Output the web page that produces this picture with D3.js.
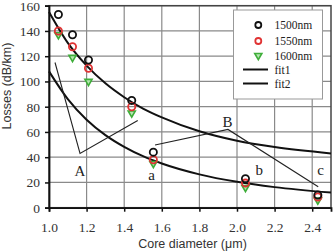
<!DOCTYPE html>
<html>
<head>
<meta charset="utf-8">
<script src="https://cdn.jsdelivr.net/npm/d3@7"></script>
<style>
  body { margin: 0; background: #fff; }
  svg text { fill: #222; }
  .tick-lab { font-family: "Liberation Serif", "DejaVu Serif", serif; font-size: 13.5px; fill: #333; }
  .ttl { font-family: "Liberation Sans", Arial, sans-serif; font-size: 12.5px; fill: #333; }
  .ann { font-family: "Liberation Serif", serif; font-size: 15px; }
  .leg { font-family: "Liberation Serif", serif; font-size: 11.5px; }
</style>
</head>
<body>
<svg id="chart" width="333" height="251"></svg>
<script>
// measured core diameters and losses
var diameters = [1.05, 1.125, 1.21, 1.44, 1.555, 2.045, 2.43];
var loss1500 = [153, 137, 117, 85, 44, 23, 10];
var loss1550 = [140, 127.5, 110.5, 80, 38, 19.5, 8.5];
var loss1600 = [137, 119, 100, 75, 35, 16, 6];

// fit curves
var fitX = [1.0, 1.1, 1.2, 1.3, 1.4, 1.5, 1.6, 1.8, 2.0, 2.2, 2.5];
var fit1 = [155, 130.5, 112.5, 98.5, 87.5, 78.5, 71.5, 60.5, 53, 48, 43];
var fit2 = [108, 86, 69.7, 57.5, 48.2, 40.8, 35, 26.4, 20.5, 16.3, 12];

var xTicks = [1.0, 1.2, 1.4, 1.6, 1.8, 2.0, 2.2, 2.4];
var yTicks = [0, 20, 40, 60, 80, 100, 120, 140, 160];

// annotation pointers (data coords)
var lineA = [[1.032, 115], [1.165, 43], [1.472, 69]];
var lineB = [[1.564, 49.7], [1.952, 62], [2.432, 16.6]];
var labels = [
  {t: "A", x: 1.165, y: 25},
  {t: "B", x: 1.95, y: 64},
  {t: "a", x: 1.546, y: 22},
  {t: "b", x: 2.118, y: 26},
  {t: "c", x: 2.445, y: 26}
];

var svg = d3.select("#chart");
var x = d3.scaleLinear().domain([1.0, 2.5]).range([49, 331]);
var y = d3.scaleLinear().domain([0, 160]).range([207.7, 5.7]);

// grid
svg.append("g").selectAll("line").data(xTicks.slice(1)).enter().append("line")
    .attr("x1", d => x(d)).attr("x2", d => x(d))
    .attr("y1", y(0)).attr("y2", y(160))
    .attr("stroke", "#8a8a8a").attr("stroke-width", 1.2);
svg.append("g").selectAll("line").data(yTicks.slice(1)).enter().append("line")
    .attr("x1", x(1.0)).attr("x2", x(2.5))
    .attr("y1", d => y(d)).attr("y2", d => y(d))
    .attr("stroke", "#8a8a8a").attr("stroke-width", 1.2);

// frame
svg.append("rect")
    .attr("x", x(1.0)).attr("y", y(160))
    .attr("width", x(2.5) - x(1.0)).attr("height", y(0) - y(160))
    .attr("fill", "none").attr("stroke", "#444").attr("stroke-width", 1.5);

// axes
var xAxis = svg.append("g")
    .attr("transform", "translate(0," + y(0) + ")")
    .call(d3.axisBottom(x).tickValues(xTicks).tickSize(4).tickPadding(11).tickFormat(d3.format(".1f")));
var yAxis = svg.append("g")
    .attr("transform", "translate(" + x(1.0) + ",0)")
    .call(d3.axisLeft(y).tickValues(yTicks).tickSize(4).tickPadding(5));
[xAxis, yAxis].forEach(function(g) {
  g.select(".domain").attr("stroke", "#111").attr("stroke-width", 1.8);
  g.selectAll(".tick line").attr("stroke", "#111").attr("stroke-width", 1.5);
  g.selectAll(".tick text").attr("class", "tick-lab");
});

// fit lines
var fitLine = d3.line().x(d => x(d[0])).y(d => y(d[1])).curve(d3.curveMonotoneX);
[fit1, fit2].forEach(function(f) {
  svg.append("path")
      .datum(fitX.map((v, i) => [v, f[i]]))
      .attr("d", fitLine)
      .attr("fill", "none").attr("stroke", "#111").attr("stroke-width", 2);
});

// annotation lines
var pl = d3.line().x(d => x(d[0])).y(d => y(d[1]));
[lineA, lineB].forEach(function(p) {
  svg.append("path").attr("d", pl(p))
      .attr("fill", "none").attr("stroke", "#222").attr("stroke-width", 1.1);
});
svg.append("g").selectAll("text").data(labels).enter().append("text")
    .attr("class", "ann")
    .attr("x", d => x(d.x)).attr("y", d => y(d.y))
    .attr("text-anchor", "middle")
    .text(d => d.t);

// markers
var tri = d3.symbol().type(d3.symbolTriangle).size(22);
function drawTri(g, px, py) {
  g.append("path").attr("d", tri())
      .attr("transform", "translate(" + px + "," + py + ") rotate(180)")
      .attr("fill", "#b5e6b0").attr("stroke", "#3fae3a").attr("stroke-width", 1.6);
}
var mk = svg.append("g");
diameters.forEach(function(d, i) {
  drawTri(mk, x(d), y(loss1600[i]));
});
mk.selectAll(".r").data(diameters).enter().append("circle")
    .attr("cx", d => x(d)).attr("cy", (d, i) => y(loss1550[i])).attr("r", 3.6)
    .attr("fill", "none").attr("stroke", "#e03333").attr("stroke-width", 1.8);
mk.selectAll(".k").data(diameters).enter().append("circle")
    .attr("cx", d => x(d)).attr("cy", (d, i) => y(loss1500[i])).attr("r", 3.6)
    .attr("fill", "none").attr("stroke", "#111").attr("stroke-width", 1.8);

// legend
var lg = svg.append("g");
lg.append("rect").attr("x", 233.5).attr("y", 10).attr("width", 89).attr("height", 89)
    .attr("fill", "#fff").attr("stroke", "#999").attr("stroke-width", 1);
var rows = [25, 41, 55.5, 69.5, 83.5];
lg.append("circle").attr("cx", 258.3).attr("cy", rows[0]).attr("r", 3)
    .attr("fill", "none").attr("stroke", "#111").attr("stroke-width", 1.8);
lg.append("circle").attr("cx", 258.3).attr("cy", rows[1]).attr("r", 3)
    .attr("fill", "none").attr("stroke", "#e03333").attr("stroke-width", 1.8);
drawTri(lg, 258.3, rows[2]);
lg.append("line").attr("x1", 243).attr("x2", 268).attr("y1", rows[3]).attr("y2", rows[3])
    .attr("stroke", "#111").attr("stroke-width", 2);
lg.append("line").attr("x1", 243).attr("x2", 268).attr("y1", rows[4]).attr("y2", rows[4])
    .attr("stroke", "#111").attr("stroke-width", 2);
var names = ["1500nm", "1550nm", "1600nm", "fit1", "fit2"];
lg.selectAll("text").data(names).enter().append("text")
    .attr("class", "leg")
    .attr("x", 274.5).attr("y", (d, i) => rows[i] + 4)
    .text(d => d);

// axis titles
svg.append("text").attr("class", "ttl")
    .attr("x", 192.5).attr("y", 247.5).attr("text-anchor", "middle")
    .text("Core diameter (\u03bcm)");
svg.append("text").attr("class", "ttl")
    .attr("transform", "translate(11,86) rotate(-90)")
    .attr("text-anchor", "middle")
    .text("Losses (dB/km)");
</script>
</body>
</html>
